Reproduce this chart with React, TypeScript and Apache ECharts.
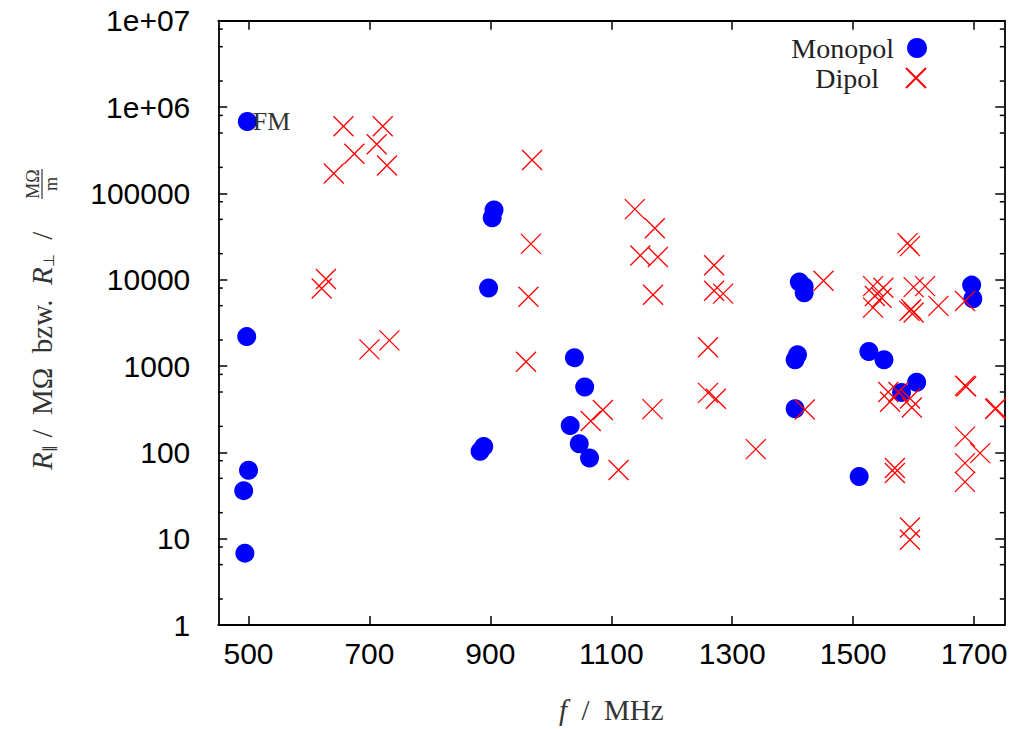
import React, { useEffect, useRef } from "react";
import * as echarts from "echarts";

// Monopol measurements: frequency (MHz) and resistance
const monopolFreq = [498, 906, 903, 897, 497, 500, 492, 494, 889, 883, 1039, 1056, 1032, 1047, 1064, 1411, 1419, 1419, 1408, 1404, 1404, 1526, 1551, 1510, 1605, 1580, 1696, 1698];
const monopolR = [680000, 64000, 52000, 8000, 2190, 62, 36, 6.8, 117, 103, 1250, 572, 204, 126, 86, 9400, 8300, 7060, 1350, 1180, 320, 1470, 1180, 52.5, 648, 495, 8650, 6030];

// Dipol measurements
const dipolFreq = [657, 722, 675, 712, 641, 729, 969, 967, 963, 628, 621, 700, 733, 959, 1086, 1066, 1112, 1139, 1172, 1148, 1177, 1270, 1169, 1270, 1285, 1451, 1533, 1550, 1536, 1547, 1533, 1590, 1594, 1600, 1619, 1596, 1600, 1593, 1641, 1685, 1168, 1260, 1260, 1273, 1339, 1420, 1558, 1575, 1561, 1594, 1597, 1569, 1569, 1594, 1594, 1685, 1687, 1735, 1736, 1685, 1710, 1685, 1685];
const dipolR = [600000, 600000, 287000, 370000, 170000, 210000, 243000, 26000, 6350, 10200, 7900, 1560, 1980, 1120, 309, 231, 62.5, 65700, 39400, 19100, 18300, 14700, 6700, 7450, 6900, 9700, 8430, 8060, 6470, 6180, 4750, 26500, 24500, 8200, 8430, 4540, 4160, 4350, 4970, 5670, 317, 1650, 488, 417, 109, 314, 501, 501, 385, 420, 331, 65.9, 57.7, 13.5, 9.7, 593, 580, 318, 325, 152, 98, 75, 45.5];

const xTicks = [500, 700, 900, 1100, 1300, 1500, 1700];
const yTicks = [1, 10, 100, 1000, 10000, 100000, 1000000, 10000000];
const yTickLabels = ["1", "10", "100", "1000", "10000", "100000", "1e+06", "1e+07"];
const yMinorTicks = [2, 5, 8, 20, 50, 80, 200, 500, 800, 2000, 5000, 8000, 20000, 50000, 80000, 200000, 500000, 800000, 2000000, 5000000, 8000000];

const X_MIN = 450;
const X_MAX = 1750;

const crossPath = "path://M0,0L20,20M20,0L0,20";
const serif = "Liberation Serif";
const titleColor = "#333";

export default function App() {
  const ref = useRef<HTMLDivElement>(null);

  useEffect(() => {
    if (!ref.current) return;
    const chart = echarts.init(ref.current, undefined, { renderer: "svg" });

    const monopolData = monopolFreq.map((f, i) => {
      if (i === 0) {
        return {
          value: [f, monopolR[i]],
          label: {
            show: true,
            position: "right",
            distance: -4,
            formatter: "FM",
            fontFamily: serif,
            fontSize: 26,
            color: titleColor,
          },
        };
      }
      return { value: [f, monopolR[i]] };
    });
    const dipolData = dipolFreq.map((f, i) => [f, dipolR[i]]);
    const minorData = yMinorTicks.map((v) => [X_MIN, v]);

    const frame = { show: true, lineStyle: { color: "#000", width: 1.8 } };
    const majorTick = { show: true, inside: true, length: 9, lineStyle: { color: "#000", width: 1.5 } };

    const option: any = {
      animation: false,
      backgroundColor: "#fff",
      grid: { left: 218.3, top: 20.7, right: 12.7, bottom: 99, containLabel: false },
      legend: [
        {
          data: ["Monopol"],
          orient: "vertical",
          right: 85,
          top: 29,
          align: "right",
          itemWidth: 20,
          itemHeight: 20,
          selectedMode: false,
          textStyle: { fontFamily: serif, fontSize: 28, color: "#222", padding: [0, 8, 0, 0] },
        },
        {
          data: ["Dipol"],
          orient: "vertical",
          right: 85,
          top: 59,
          align: "right",
          itemWidth: 20,
          itemHeight: 20,
          selectedMode: false,
          textStyle: { fontFamily: serif, fontSize: 28, color: "#222", padding: [0, 22, 0, 0] },
        },
      ],
      graphic: [
        {
          type: "text",
          x: 42,
          y: 470,
          rotation: Math.PI / 2,
          silent: true,
          style: {
            text: "{it|R}{sub|∥} /  MΩ  bzw.  {it|R}{sub|⊥}  /",
            textAlign: "left",
            textVerticalAlign: "middle",
            fontFamily: serif,
            fontSize: 29,
            fill: titleColor,
            rich: {
              it: { fontFamily: serif, fontStyle: "italic", fontSize: 29, fill: titleColor, color: titleColor },
              sub: { fontFamily: "DejaVu Sans", fontSize: 15, fill: titleColor, color: titleColor, verticalAlign: "bottom", padding: [12, 0, 0, 0] },
            },
          },
        },
        {
          type: "group",
          x: 42,
          y: 184,
          rotation: Math.PI / 2,
          silent: true,
          children: [
            {
              type: "text",
              x: 0,
              y: -9,
              style: { text: "MΩ", textAlign: "center", textVerticalAlign: "middle", fontFamily: serif, fontSize: 18, fill: titleColor },
            },
            {
              type: "line",
              shape: { x1: -15, y1: 0, x2: 15, y2: 0 },
              style: { stroke: titleColor, lineWidth: 1.2 },
            },
            {
              type: "text",
              x: 0,
              y: 9,
              style: { text: "m", textAlign: "center", textVerticalAlign: "middle", fontFamily: serif, fontSize: 18, fill: titleColor },
            },
          ],
        },
      ],
      xAxis: [
        {
          type: "value",
          min: X_MIN,
          max: X_MAX,
          position: "bottom",
          axisLine: frame,
          axisTick: { ...majorTick, customValues: xTicks },
          axisLabel: {
            customValues: xTicks,
            formatter: (v: number) => String(v),
            fontFamily: "Liberation Sans",
            fontSize: 30,
            color: "#000",
            margin: 13,
          },
          splitLine: { show: false },
          name: "{it|f}  /  MHz",
          nameLocation: "middle",
          nameGap: 70,
          nameTextStyle: {
            fontFamily: serif,
            fontSize: 29,
            color: titleColor,
            rich: {
              it: { fontFamily: serif, fontStyle: "italic", fontSize: 29, color: titleColor },
            },
          },
        },
        {
          type: "value",
          min: X_MIN,
          max: X_MAX,
          position: "top",
          axisLine: frame,
          axisTick: { ...majorTick, customValues: xTicks },
          axisLabel: { show: false },
          splitLine: { show: false },
        },
      ],
      yAxis: [
        {
          type: "log",
          logBase: 10,
          min: 1,
          max: 10000000,
          position: "left",
          axisLine: frame,
          axisTick: { ...majorTick, customValues: yTicks },
          minorTick: { show: false },
          axisLabel: {
            customValues: yTicks,
            formatter: (v: number) => yTickLabels[Math.round(Math.log10(v))],
            fontFamily: "Liberation Sans",
            fontSize: 30,
            color: "#000",
            margin: 28,
          },
          splitLine: { show: false },
        },
        {
          type: "log",
          logBase: 10,
          min: 1,
          max: 10000000,
          position: "right",
          axisLine: frame,
          axisTick: { ...majorTick, customValues: yTicks },
          minorTick: { show: false },
          axisLabel: { show: false },
          splitLine: { show: false },
        },
      ],
      series: [
        {
          name: "Monopol",
          type: "scatter",
          xAxisIndex: 0,
          yAxisIndex: 0,
          symbol: "circle",
          symbolSize: 19,
          itemStyle: { color: "#0000ff", opacity: 1 },
          data: monopolData,
          z: 3,
        },
        {
          name: "Dipol",
          type: "scatter",
          xAxisIndex: 0,
          yAxisIndex: 0,
          symbol: crossPath,
          symbolSize: 20,
          itemStyle: { color: "transparent", borderColor: "#ff0000", borderWidth: 1.3, opacity: 1 },
          data: dipolData,
          z: 4,
        },
        {
          name: "minorTicks",
          type: "custom",
          xAxisIndex: 0,
          yAxisIndex: 0,
          silent: true,
          clip: false,
          data: minorData,
          renderItem: (params: any, api: any) => {
            const cs = params.coordSys;
            const y = api.coord([api.value(0), api.value(1)])[1];
            return {
              type: "group",
              children: [
                { type: "line", shape: { x1: cs.x, y1: y, x2: cs.x + 4.5, y2: y }, style: { stroke: "#000", lineWidth: 1.5 } },
                { type: "line", shape: { x1: cs.x + cs.width, y1: y, x2: cs.x + cs.width - 4.5, y2: y }, style: { stroke: "#000", lineWidth: 1.5 } },
              ],
            };
          },
        },
      ],
    };

    chart.setOption(option);
    return () => chart.dispose();
  }, []);

  return (
    <div
      ref={ref}
      style={{ position: "fixed", left: 0, top: 0, width: "1017px", height: "729px", background: "#fff" }}
    />
  );
}
